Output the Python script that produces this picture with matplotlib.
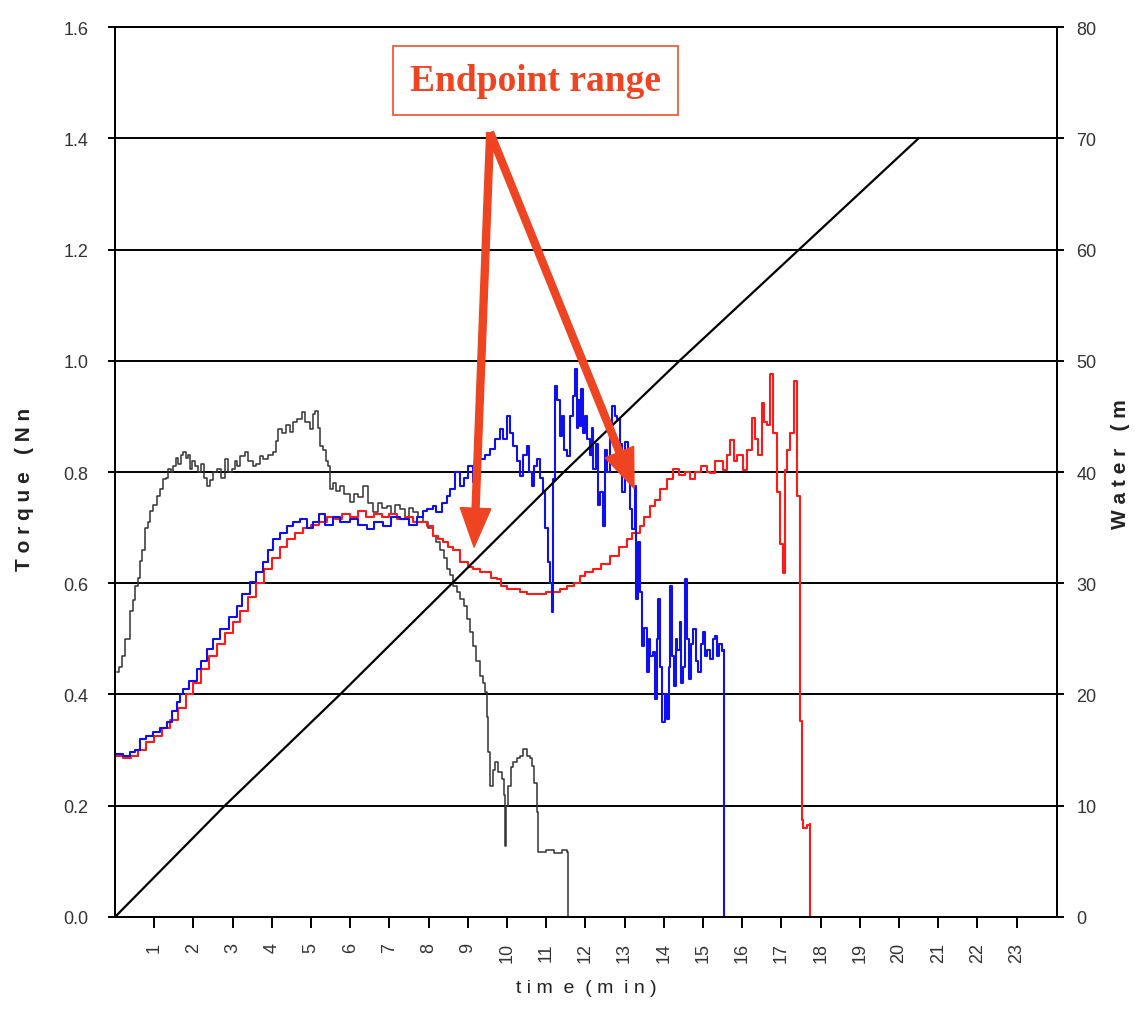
import numpy as np
import matplotlib.pyplot as plt

# Torque / water curves
# black torque trace (Nm) vs time (min)
t_black = [0.05, 0.1, 0.17, 0.25, 0.38, 0.45, 0.5, 0.58, 0.64, 0.7, 0.77, 0.83, 0.89, 0.98,
           1.07, 1.15, 1.23, 1.3, 1.35, 1.42, 1.48, 1.55, 1.62, 1.68, 1.74, 1.8, 1.86, 1.91,
           1.97, 2.03, 2.12, 2.2, 2.28, 2.35, 2.42, 2.5, 2.6, 2.7, 2.8, 2.88, 2.98, 3.05, 3.12,
           3.2, 3.32, 3.4, 3.52, 3.6, 3.7, 3.78, 3.9, 4.03, 4.1, 4.16, 4.25, 4.35, 4.47, 4.55,
           4.65, 4.77, 4.85, 4.97, 5.05, 5.1, 5.17, 5.23, 5.3, 5.38, 5.43, 5.48, 5.57, 5.65,
           5.74, 5.85, 6.0, 6.1, 6.2, 6.33, 6.45, 6.58, 6.7, 6.82, 6.94, 7.05, 7.15, 7.27, 7.4,
           7.5, 7.6, 7.72, 7.86, 7.98, 8.1, 8.2, 8.3, 8.4, 8.47, 8.55, 8.63, 8.72, 8.8, 8.9,
           8.98, 9.06, 9.13, 9.22, 9.31, 9.38, 9.44, 9.48, 9.52, 9.57, 9.63, 9.69, 9.78, 9.87,
           9.92, 9.95, 9.98, 10.03, 10.1, 10.15, 10.25, 10.33, 10.41, 10.5, 10.58, 10.63, 10.7,
           10.76, 10.8, 11.0, 11.2, 11.4, 11.53, 11.56]
torque_black = [0.44, 0.45, 0.47, 0.50, 0.55, 0.57, 0.595, 0.61, 0.64, 0.66, 0.70, 0.71, 0.73, 0.74,
                0.757, 0.77, 0.787, 0.79, 0.805, 0.80, 0.81, 0.825, 0.815, 0.83, 0.836, 0.825, 0.83, 0.805,
                0.82, 0.81, 0.80, 0.815, 0.79, 0.775, 0.785, 0.80, 0.805, 0.79, 0.823, 0.80, 0.805, 0.82, 0.81,
                0.828, 0.836, 0.82, 0.81, 0.815, 0.828, 0.823, 0.83, 0.836, 0.855, 0.877, 0.87, 0.885, 0.872, 0.89,
                0.895, 0.908, 0.89, 0.877, 0.905, 0.91, 0.88, 0.847, 0.84, 0.82, 0.81, 0.77, 0.78, 0.765,
                0.775, 0.76, 0.746, 0.76, 0.755, 0.775, 0.745, 0.728, 0.745, 0.735, 0.739, 0.725, 0.74, 0.733, 0.72,
                0.735, 0.728, 0.72, 0.71, 0.70, 0.685, 0.675, 0.66, 0.645, 0.626, 0.615, 0.595, 0.585, 0.572, 0.56,
                0.536, 0.512, 0.487, 0.46, 0.433, 0.42, 0.404, 0.36, 0.297, 0.236, 0.265, 0.279, 0.26, 0.248,
                0.22, 0.128, 0.20, 0.236, 0.27, 0.279, 0.285, 0.29, 0.302, 0.29, 0.285, 0.272, 0.24,
                0.189, 0.117, 0.12, 0.115, 0.12, 0.117, 0.0]

# blue torque trace
t_blue = [0.0, 0.2, 0.38, 0.5, 0.64, 0.8, 0.97, 1.15, 1.33, 1.45, 1.58, 1.65, 1.74, 1.9, 2.09, 2.2,
          2.35, 2.5, 2.68, 2.9, 3.11, 3.25, 3.44, 3.6, 3.78, 3.9, 4.03, 4.2, 4.39, 4.55, 4.72, 4.9,
          5.05, 5.2, 5.35, 5.56, 5.75, 6.0, 6.2, 6.43, 6.6, 6.84, 7.05, 7.27, 7.5, 7.7, 7.85, 7.96,
          8.11, 8.2, 8.35, 8.47, 8.55, 8.67, 8.8, 8.9, 9.0, 9.13, 9.22, 9.31, 9.45, 9.57, 9.7, 9.82,
          9.9, 10.0, 10.08, 10.15, 10.25, 10.33, 10.42, 10.5, 10.57, 10.64, 10.7, 10.76, 10.84, 10.92,
          10.98, 11.05, 11.1, 11.15, 11.17, 11.22, 11.28, 11.35, 11.4, 11.45, 11.53, 11.6, 11.68, 11.73,
          11.78, 11.8, 11.86, 11.9, 11.95, 12.0, 12.04, 12.12, 12.16, 12.2, 12.28, 12.33, 12.37, 12.45,
          12.5, 12.55, 12.62, 12.68, 12.75, 12.81, 12.87, 12.93, 13.01, 13.08, 13.14, 13.2, 13.27, 13.3,
          13.35, 13.39, 13.44, 13.5, 13.57, 13.62, 13.65, 13.73, 13.78, 13.82, 13.86, 13.9, 13.95, 14.02,
          14.08, 14.12, 14.16, 14.2, 14.25, 14.3, 14.33, 14.41, 14.45, 14.48, 14.54, 14.6, 14.63, 14.7,
          14.75, 14.82, 14.88, 14.95, 15.01, 15.06, 15.1, 15.18, 15.25, 15.31, 15.36, 15.4, 15.48, 15.54,
          15.54]
torque_blue = [0.293, 0.29, 0.297, 0.30, 0.32, 0.325, 0.333, 0.34, 0.35, 0.37, 0.386, 0.40, 0.41, 0.425, 0.446, 0.46,
               0.482, 0.50, 0.518, 0.54, 0.56, 0.58, 0.602, 0.62, 0.638, 0.66, 0.68, 0.69, 0.703, 0.71, 0.716, 0.70,
               0.71, 0.725, 0.705, 0.72, 0.71, 0.716, 0.705, 0.697, 0.71, 0.703, 0.72, 0.716, 0.705, 0.72, 0.73, 0.733,
               0.739, 0.728, 0.745, 0.757, 0.77, 0.80, 0.775, 0.79, 0.81, 0.782, 0.80, 0.823, 0.83, 0.841, 0.86, 0.877,
               0.86, 0.90, 0.87, 0.847, 0.82, 0.793, 0.83, 0.847, 0.80, 0.775, 0.81, 0.823, 0.79, 0.764,
               0.70, 0.638, 0.60, 0.548, 0.787, 0.955, 0.93, 0.865, 0.90, 0.84, 0.829, 0.90, 0.937, 0.985,
               0.88, 0.93, 0.883, 0.95, 0.87, 0.90, 0.859, 0.83, 0.88, 0.805, 0.85, 0.74, 0.764, 0.703,
               0.84, 0.80, 0.88, 0.919, 0.90, 0.895, 0.85, 0.764, 0.854, 0.80, 0.733, 0.697, 0.775, 0.572,
               0.674, 0.584, 0.487, 0.52, 0.44, 0.50, 0.47, 0.476, 0.392, 0.50, 0.572, 0.45, 0.35, 0.40,
               0.356, 0.45, 0.595, 0.47, 0.415, 0.50, 0.48, 0.53, 0.42, 0.45, 0.607, 0.50, 0.428, 0.49,
               0.518, 0.46, 0.44, 0.49, 0.512, 0.47, 0.48, 0.464, 0.50, 0.505, 0.47, 0.49, 0.478, 0.48,
               0.0]

# red torque trace
t_red = [0.0, 0.2, 0.4, 0.6, 0.8, 1.0, 1.2, 1.4, 1.6, 1.8, 2.0, 2.2, 2.4, 2.6, 2.8, 3.0, 3.2, 3.4,
         3.6, 3.8, 4.0, 4.2, 4.4, 4.6, 4.8, 5.0, 5.2, 5.4, 5.6, 5.8, 6.0, 6.2, 6.4, 6.6, 6.8, 7.0,
         7.2, 7.4, 7.6, 7.8, 7.96, 8.11, 8.25, 8.37, 8.5, 8.63, 8.8, 9.0, 9.13, 9.3, 9.49, 9.6, 9.74,
         9.85, 10.0, 10.15, 10.33, 10.5, 10.7, 10.84, 11.0, 11.17, 11.35, 11.53, 11.7, 11.86, 12.0,
         12.2, 12.4, 12.63, 12.85, 13.06, 13.2, 13.39, 13.5, 13.65, 13.78, 13.9, 14.08, 14.24, 14.4,
         14.55, 14.67, 14.8, 14.95, 15.1, 15.18, 15.3, 15.51, 15.6, 15.69, 15.78, 15.87, 16.02, 16.12,
         16.25, 16.33, 16.4, 16.5, 16.56, 16.63, 16.71, 16.79, 16.89, 16.96, 17.04, 17.09, 17.15, 17.22,
         17.32, 17.4, 17.47, 17.47, 17.52, 17.55, 17.65, 17.73, 17.73]
torque_red = [0.29, 0.285, 0.29, 0.30, 0.315, 0.325, 0.34, 0.355, 0.375, 0.40, 0.42, 0.445, 0.47, 0.49, 0.51, 0.53, 0.55, 0.575,
              0.60, 0.625, 0.645, 0.665, 0.68, 0.69, 0.70, 0.705, 0.71, 0.72, 0.715, 0.725, 0.72, 0.73, 0.72, 0.725, 0.72, 0.725,
              0.715, 0.72, 0.71, 0.71, 0.703, 0.685, 0.68, 0.674, 0.665, 0.66, 0.638, 0.63, 0.626, 0.62, 0.62, 0.61, 0.607,
              0.595, 0.59, 0.59, 0.584, 0.58, 0.58, 0.58, 0.585, 0.584, 0.59, 0.595, 0.60, 0.613, 0.62,
              0.626, 0.635, 0.649, 0.665, 0.68, 0.69, 0.703, 0.72, 0.739, 0.75, 0.77, 0.787, 0.805, 0.795,
              0.80, 0.787, 0.80, 0.81, 0.80, 0.798, 0.82, 0.804, 0.83, 0.857, 0.82, 0.831, 0.804, 0.84,
              0.897, 0.86, 0.831, 0.924, 0.89, 0.884, 0.976, 0.87, 0.764, 0.67, 0.618, 0.804, 0.84, 0.87,
              0.964, 0.757, 0.606, 0.353, 0.174, 0.16, 0.165, 0.167, 0.0]

# water added (right axis)
t_water = [0.0, 2.8, 5.74, 8.6, 11.45, 14.4, 17.45, 20.5]
water = [0, 10, 20, 30, 40, 50, 60, 70]

torque_ticks = [0.0, 0.2, 0.4, 0.6, 0.8, 1.0, 1.2, 1.4, 1.6]
water_ticks = [0, 10, 20, 30, 40, 50, 60, 70, 80]
time_ticks = list(range(1, 24))

plt.rcParams['font.family'] = ['Liberation Sans', 'DejaVu Sans']

fig = plt.figure(figsize=(11.35, 10.12), dpi=100, facecolor='white')
ax = fig.add_axes([0.1013, 0.0929, 0.83, 0.8794])
ax2 = ax.twinx()

# logger data is stepped, so draw as steps
ax.plot(t_black, torque_black, color='#333333', lw=1.1, drawstyle='steps-post', zorder=3)
ax.plot(t_red, torque_red, color='#ff1a1a', lw=1.5, drawstyle='steps-post', zorder=4)
ax.plot(t_blue, torque_blue, color='#1010ee', lw=1.5, drawstyle='steps-post', zorder=5)
ax2.plot(t_water, water, color='black', lw=1.6)

ax.set_xlim(0, 24.03)
ax.set_ylim(0, 1.6)
ax2.set_ylim(0, 80)

ax.set_yticks(torque_ticks)
ax.set_yticklabels(['%.1f' % v for v in torque_ticks])
ax2.set_yticks(water_ticks)
ax2.set_yticklabels([str(v) for v in water_ticks])
ax.set_xticks(time_ticks)
ax.set_xticklabels([str(v) for v in time_ticks], rotation=90)

ax.grid(axis='y', color='black', linewidth=1.4)
ax.set_axisbelow(True)
for a in (ax, ax2):
    for s in a.spines.values():
        s.set_linewidth(1.4)

ax.tick_params(axis='y', direction='out', length=5, width=1.4, pad=14, labelsize=13, labelcolor='#333333')
ax2.tick_params(axis='y', direction='out', length=5, width=1.4, pad=9, labelsize=13, labelcolor='#333333')
ax.tick_params(axis='x', direction='out', length=8, width=1.4, pad=10, labelsize=13, labelcolor='#333333')

ax.set_xlabel('t i m  e  ( m  i n )', fontsize=14, color='#222222', labelpad=12)
fig.text(0.022, 0.516, 'T o r q u e   ( N n', rotation=90, ha='center', va='center',
         fontsize=15, fontweight='bold', color='#222222')
fig.text(0.987, 0.541, 'W a t e r   ( m', rotation=90, ha='center', va='center',
         fontsize=15, fontweight='bold', color='#222222')

# endpoint annotation
arrow_col = '#ee4422'
ax2.annotate('', xy=(9.16, 0.665), xytext=(9.57, 1.41), xycoords=ax.transData,
             textcoords=ax.transData,
             arrowprops=dict(facecolor=arrow_col, edgecolor=arrow_col, width=5,
                             headwidth=22, headlength=28, shrink=0))
ax2.annotate('', xy=(13.24, 0.771), xytext=(9.57, 1.41), xycoords=ax.transData,
             textcoords=ax.transData,
             arrowprops=dict(facecolor=arrow_col, edgecolor=arrow_col, width=5,
                             headwidth=22, headlength=28, shrink=0))
ax2.text(10.72, 1.504, 'Endpoint range', transform=ax.transData, ha='center', va='center',
         fontsize=27, fontweight='bold', family=['Liberation Serif', 'DejaVu Serif'],
         color=arrow_col,
         bbox=dict(boxstyle='square,pad=0.45', facecolor='white', edgecolor='#e8603c', linewidth=1.3))

fig.savefig('out.png', dpi=100, facecolor='white')
